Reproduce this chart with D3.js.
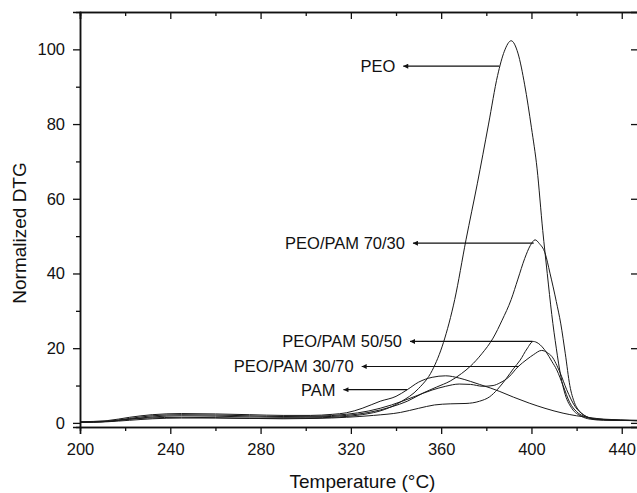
<!DOCTYPE html>
<html>
<head>
<meta charset="utf-8">
<script src="https://cdn.jsdelivr.net/npm/d3@7"></script>
<style>
  body { margin: 0; background: #fff; }
  text { font-family: "Liberation Sans", Arial, sans-serif; fill: #111; }
</style>
</head>
<body>
<script>
// curves: [temperature, normalized DTG]
const peo = [[200,0.2],[210,0.3],[220,0.9],[230,1.3],[245,1.5],[260,1.4],[280,1.2],[300,1.3],[315,1.6],[325,2.2],[335,3.6],[342,5.6],[350,9.2],[356,14],[361,21.5],[366,33],[371,49],[376,64],[381,80],[385,93],[388,99.5],[391,102.3],[394,99],[397,90.5],[400,79],[402.5,68],[405,51.5],[407,40],[409,29],[411,20],[413,12.5],[415,7.5],[418,3.8],[422,1.8],[426,1.0],[432,0.7],[447,0.6]];
const peo7030 = [[200,0.2],[212,0.4],[222,1.0],[232,1.6],[245,1.9],[260,1.8],[275,1.6],[290,1.5],[305,1.6],[318,2.0],[328,2.8],[338,4.3],[345,5.8],[352,8.0],[358,9.6],[364,11.2],[369,13.2],[373,15.2],[378,18.5],[383,22.7],[387,27.5],[391,33],[394,38.5],[397,44],[399.5,47.5],[401.6,49.0],[403.5,48],[406,45.5],[408.2,40.1],[411,32.5],[413,26.5],[415,18.5],[417,10],[419,5.5],[421.5,3.0],[425,1.5],[430,0.9],[447,0.6]];
const peo5050 = [[200,0.1],[212,0.3],[222,0.7],[232,1.1],[245,1.3],[260,1.3],[275,1.2],[290,1.1],[305,1.2],[318,1.5],[330,2.0],[342,2.8],[350,3.9],[357,4.8],[364,5.1],[371,5.2],[377,5.8],[381.5,7.0],[385,9.0],[389,12],[392,14.5],[395,16.8],[398,19.8],[400.8,21.8],[403,21.3],[406.5,19],[409,16.5],[411.2,14.2],[414,10],[417,5.4],[420,3.0],[424,1.6],[430,0.9],[447,0.6]];
const peo3070 = [[200,0.2],[212,0.4],[222,1.2],[232,1.9],[245,2.2],[260,2.1],[275,1.9],[290,1.7],[305,1.8],[318,2.3],[328,3.2],[338,4.8],[348,7.0],[356,8.8],[362,9.8],[368,10.4],[373,10.3],[378.5,9.8],[383,10.0],[386,10.7],[390,12.3],[394,15.0],[398,17.0],[401,18.3],[404.5,19.4],[407,18.8],[409,17.8],[412.7,13.4],[415.6,8.9],[419.3,4.4],[423,2.2],[428,1.1],[447,0.6]];
const pam = [[200,0.3],[212,0.6],[222,1.5],[232,2.2],[245,2.5],[260,2.4],[275,2.2],[290,2.0],[302,2.0],[312,2.3],[318,2.7],[325,3.9],[333,5.8],[340,7.1],[345,8.9],[350,10.9],[356,12.2],[362,12.6],[368,12.0],[373,11.1],[377,10.3],[382,9.3],[386,8.4],[392,6.9],[399,5.3],[406,3.9],[414,2.6],[420,1.9],[426,1.4],[432,1.0],[447,0.7]];

// labels with arrows: text, level, arrow tip temp, arrow end temp
const labels = [
  { text: "PEO", v: 95.5, tip: 343.2, end: 385.8 },
  { text: "PEO/PAM 70/30", v: 48.1, tip: 347.5, end: 401 },
  { text: "PEO/PAM 50/50", v: 21.8, tip: 346.2, end: 400.5 },
  { text: "PEO/PAM 30/70", v: 15.1, tip: 324.8, end: 394.3 },
  { text: "PAM", v: 8.9, tip: 316.7, end: 345 }
];

const xMajor = [200, 240, 280, 320, 360, 400, 440];
const xMinor = [220, 260, 300, 340, 380, 420];
const yMajor = [0, 20, 40, 60, 80, 100];
const yMinor = [10, 30, 50, 70, 90];

const width = 637, height = 493;
const margin = { top: 12, right: -1, bottom: 66, left: 80 };

const x = d3.scaleLinear()
  .domain([200, 447.2])
  .range([margin.left, width - margin.right]);
const y = d3.scaleLinear()
  .domain([-1.1, 110])
  .range([height - margin.bottom, margin.top]);

const svg = d3.select("body").append("svg")
  .attr("width", width)
  .attr("height", height);

// curves
const line = d3.line()
  .x(d => x(d[0]))
  .y(d => y(d[1]))
  .curve(d3.curveMonotoneX);

svg.selectAll("path.curve")
  .data([peo, peo7030, peo5050, peo3070, pam])
  .enter()
  .append("path")
  .attr("class", "curve")
  .attr("d", line)
  .attr("fill", "none")
  .attr("stroke", "#1a1a1a")
  .attr("stroke-width", 1);

// axes (major + minor ticks, on all four sides)
function styleAxis(g) {
  g.select(".domain").attr("stroke", "#111").attr("stroke-width", 1.5);
  g.selectAll(".tick line").attr("stroke", "#111").attr("stroke-width", 1.3);
  g.selectAll(".tick text").attr("font-size", 16.5).attr("fill", "#111")
    .attr("font-family", "'Liberation Sans', Arial, sans-serif");
}
const yb = y.range()[0], yt = y.range()[1];
const xl = x.range()[0], xr = x.range()[1];

svg.append("g").attr("transform", "translate(0," + yb + ")")
  .call(d3.axisBottom(x).tickValues(xMajor).tickSize(7).tickPadding(9).tickFormat(d3.format("d")))
  .call(styleAxis);
svg.append("g").attr("transform", "translate(0," + yb + ")")
  .call(d3.axisBottom(x).tickValues(xMinor).tickSize(4).tickFormat(""))
  .call(styleAxis);
svg.append("g").attr("transform", "translate(0," + yt + ")")
  .call(d3.axisTop(x).tickValues(xMajor).tickSize(-7).tickFormat(""))
  .call(styleAxis);
svg.append("g").attr("transform", "translate(0," + yt + ")")
  .call(d3.axisTop(x).tickValues(xMinor).tickSize(-4).tickFormat(""))
  .call(styleAxis);

svg.append("g").attr("transform", "translate(" + xl + ",0)")
  .call(d3.axisLeft(y).tickValues(yMajor).tickSize(7).tickPadding(8).tickFormat(d3.format("d")))
  .call(styleAxis);
svg.append("g").attr("transform", "translate(" + xl + ",0)")
  .call(d3.axisLeft(y).tickValues(yMinor).tickSize(4).tickFormat(""))
  .call(styleAxis);
svg.append("g").attr("transform", "translate(" + xr + ",0)")
  .call(d3.axisRight(y).tickValues(yMajor).tickSize(-7).tickFormat(""))
  .call(styleAxis);

// axis titles
svg.append("text")
  .attr("x", 362.5)
  .attr("y", 488)
  .attr("text-anchor", "middle")
  .attr("font-size", 19)
  .text("Temperature (°C)");
svg.append("text")
  .attr("transform", "translate(26,233) rotate(-90)")
  .attr("text-anchor", "middle")
  .attr("font-size", 19)
  .text("Normalized DTG");

// labels with arrows
svg.append("defs").append("marker")
  .attr("id", "arr")
  .attr("viewBox", "0 0 10 10")
  .attr("refX", 0).attr("refY", 5)
  .attr("markerWidth", 7).attr("markerHeight", 5)
  .attr("markerUnits", "userSpaceOnUse")
  .attr("orient", "auto")
  .append("path")
  .attr("d", "M10,0 L0,5 L10,10 z")
  .attr("fill", "#111");

const lab = svg.selectAll("g.lab").data(labels).enter().append("g").attr("class", "lab");
lab.append("line")
  .attr("x1", d => x(d.tip)).attr("x2", d => x(d.end))
  .attr("y1", d => y(d.v)).attr("y2", d => y(d.v))
  .attr("stroke", "#111").attr("stroke-width", 1.2)
  .attr("marker-start", "url(#arr)");
lab.append("text")
  .attr("x", d => x(d.tip) - 8)
  .attr("y", d => y(d.v))
  .attr("dy", "0.36em")
  .attr("text-anchor", "end")
  .attr("font-size", 16.5)
  .text(d => d.text);
</script>
</body>
</html>
